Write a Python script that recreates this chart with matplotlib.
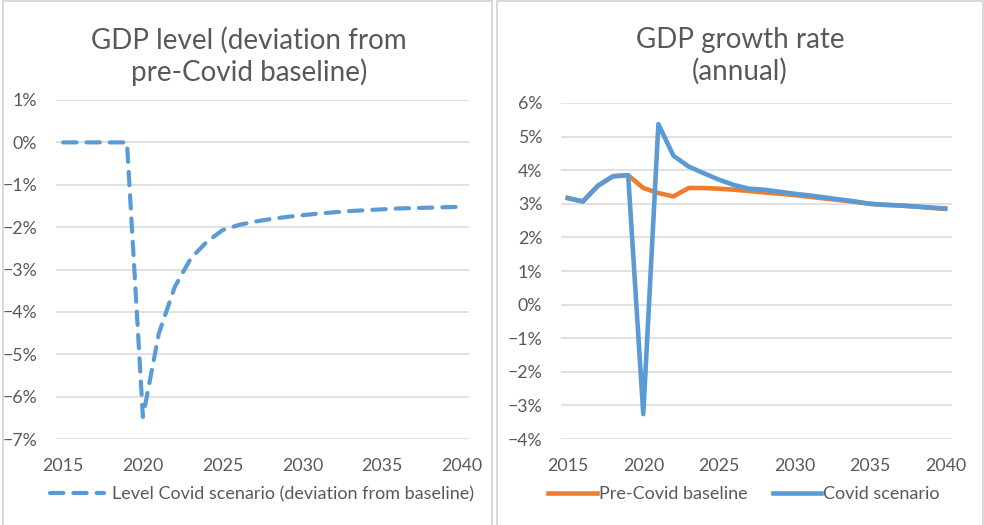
import numpy as np
import matplotlib
matplotlib.use("Agg")
import matplotlib.pyplot as plt
from matplotlib.patches import Rectangle
from matplotlib.ticker import PercentFormatter

plt.rcParams['font.family'] = ['Lato', 'DejaVu Sans']

years = list(range(2015, 2041))

# level deviation from pre-Covid baseline, %
level_dev = [0, 0, 0, 0, 0, -6.48, -4.51, -3.41, -2.74, -2.35, -2.07, -1.95,
             -1.87, -1.81, -1.76, -1.72, -1.68, -1.65, -1.62, -1.60, -1.58,
             -1.56, -1.55, -1.54, -1.53, -1.52]

# annual growth, %
baseline = [3.17, 3.07, 3.54, 3.82, 3.85, 3.47, 3.32, 3.22, 3.47, 3.47, 3.45,
            3.42, 3.38, 3.34, 3.30, 3.26, 3.21, 3.16, 3.11, 3.06, 3.00,
            2.97, 2.95, 2.92, 2.88, 2.85]
covid = [3.17, 3.07, 3.54, 3.82, 3.85, -3.26, 5.37, 4.43, 4.11, 3.91, 3.72,
         3.56, 3.45, 3.42, 3.36, 3.30, 3.25, 3.19, 3.13, 3.07, 3.00,
         2.97, 2.95, 2.92, 2.89, 2.86]

blue = '#5B9BD5'
orange = '#ED7D31'
txt = '#595959'
grid = '#D9D9D9'

fig = plt.figure(figsize=(9.84, 5.25), dpi=100)

# chart frames
fig.patches.append(Rectangle((3/984, -0.05), 489/984, 1.05 - 1/525, transform=fig.transFigure,
                             fill=False, edgecolor=grid, lw=1.5))
fig.patches.append(Rectangle((497/984, -0.05), 486/984, 1.05 - 1/525, transform=fig.transFigure,
                             fill=False, edgecolor=grid, lw=1.5))

ax1 = fig.add_axes([56/984, 1 - 439/525, 413/984, 339/525])
ax2 = fig.add_axes([561/984, 1 - 439/525, 391/984, 336/525])


def style(ax, ylo, yhi):
    ax.set_xlim(2014.55, 2040.45)
    ax.set_ylim(ylo, yhi)
    ax.set_xticks(range(2015, 2041, 5))
    ax.set_yticks(range(ylo, yhi + 1))
    ax.yaxis.set_major_formatter(PercentFormatter(decimals=0))
    ax.grid(axis='y', color=grid, lw=1.1)
    ax.set_axisbelow(True)
    for s in ax.spines.values():
        s.set_visible(False)
    ax.tick_params(length=0, labelsize=12.8, colors=txt)
    ax.tick_params(axis='y', pad=13.5)
    ax.tick_params(axis='x', pad=13.5)


style(ax1, -7, 1)
style(ax2, -4, 6)

ax1.plot(years, level_dev, color=blue, lw=3, linestyle=(0, (3.2, 2.4)),
         dash_capstyle='round', label='Level Covid scenario (deviation from baseline)')
ax2.plot(years, baseline, color=orange, lw=3.3, label='Pre-Covid baseline', solid_joinstyle='round')
ax2.plot(years, covid, color=blue, lw=3.3, label='Covid scenario', solid_joinstyle='round')

fig.text(249/984, 1 - 56/525, 'GDP level (deviation from\npre-Covid baseline)',
         ha='center', va='center', fontsize=20, color=txt, linespacing=1.2)
fig.text(740/984, 1 - 56/525, 'GDP growth rate\n(annual)',
         ha='center', va='center', fontsize=20, color=txt, linespacing=1.2)

leg1 = ax1.legend(loc='center', bbox_to_anchor=(262/984, 1 - 494/525), bbox_transform=fig.transFigure,
                  frameon=False, fontsize=13, handlelength=3.0, handletextpad=0.4)
leg2 = ax2.legend(loc='center', bbox_to_anchor=(744/984, 1 - 494/525), bbox_transform=fig.transFigure,
                  frameon=False, fontsize=13, ncol=2, handlelength=2.7, handletextpad=0.1,
                  columnspacing=1.4)
for leg in (leg1, leg2):
    for t in leg.get_texts():
        t.set_color(txt)

fig.savefig('out.png', dpi=100)
